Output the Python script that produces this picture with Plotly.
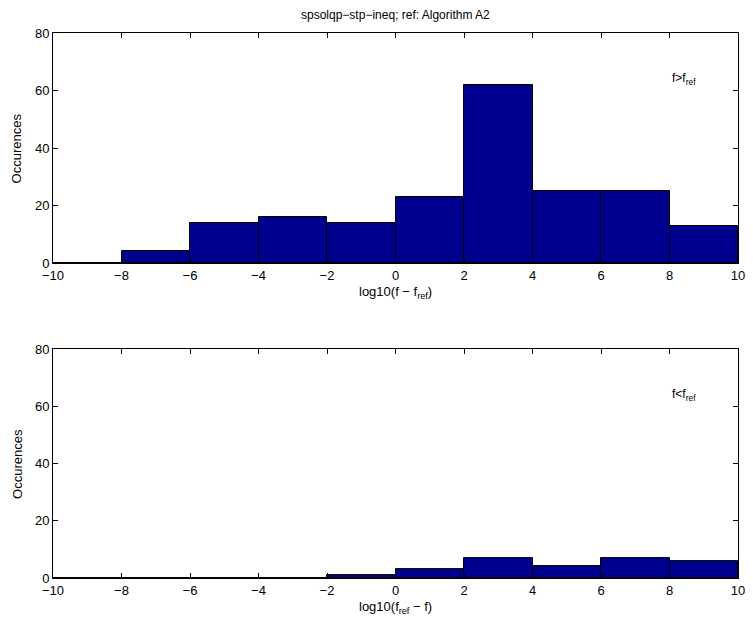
import plotly.graph_objects as go

# Histogram bin centres (bins of width 2 spanning -10..10)
bin_centers = [-9, -7, -5, -3, -1, 1, 3, 5, 7, 9]
bin_width = 2

# Counts where f > f_ref  (x = log10(f - f_ref))
counts_above = [0, 4, 14, 16, 14, 23, 62, 25, 25, 13]
# Counts where f < f_ref  (x = log10(f_ref - f))
counts_below = [0, 0, 0, 0, 1, 3, 7, 4, 7, 6]

x_ticks = [-10, -8, -6, -4, -2, 0, 2, 4, 6, 8, 10]
y_ticks = [0, 20, 40, 60, 80]

title_text = "spsolqp\u2212stp\u2212ineq; ref: Algorithm A2"
xlabel_top = "log10(f \u2212 f<sub>ref</sub>)"
xlabel_bottom = "log10(f<sub>ref</sub> \u2212 f)"
ylabel = "Occurences"
note_top = "f>f<sub>ref</sub>"
note_bottom = "f<f<sub>ref</sub>"

BAR_COLOR = "#00008F"
FONT = "Liberation Sans, Arial, Helvetica, sans-serif"

fig = go.Figure()

fig.add_trace(go.Bar(
    x=bin_centers, y=counts_above, width=[bin_width] * len(bin_centers),
    marker=dict(color=BAR_COLOR, line=dict(color="black", width=1)),
    xaxis="x", yaxis="y", showlegend=False, hoverinfo="x+y",
))
fig.add_trace(go.Bar(
    x=bin_centers, y=counts_below, width=[bin_width] * len(bin_centers),
    marker=dict(color=BAR_COLOR, line=dict(color="black", width=1)),
    xaxis="x2", yaxis="y2", showlegend=False, hoverinfo="x+y",
))

axis_common = dict(
    showline=True, linecolor="black", linewidth=1, mirror="ticks",
    ticks="inside", ticklen=5, tickcolor="black", tickwidth=1,
    showgrid=False, zeroline=False,
    tickfont=dict(family=FONT, size=13, color="black"),
)

fig.update_layout(
    width=753, height=620,
    margin=dict(l=53, r=8, t=33, b=42),
    paper_bgcolor="white", plot_bgcolor="white",
    bargap=0,
    font=dict(family=FONT, size=13, color="black"),
    xaxis=dict(range=[-10, 10], tickvals=x_ticks, domain=[0, 1], anchor="y", **axis_common),
    yaxis=dict(range=[0, 80], tickvals=y_ticks, domain=[0.578, 1.0], anchor="x", **axis_common),
    xaxis2=dict(range=[-10, 10], tickvals=x_ticks, domain=[0, 1], anchor="y2", **axis_common),
    yaxis2=dict(range=[0, 80], tickvals=y_ticks, domain=[0.0, 0.42], anchor="x2", **axis_common),
)

annotations = [
    dict(text=title_text, xref="paper", yref="paper", x=0.5, y=1.033,
         xanchor="center", yanchor="middle", showarrow=False, font=dict(size=12)),
    dict(text=xlabel_top, xref="paper", yref="paper", x=0.5, y=0.523,
         xanchor="center", yanchor="middle", showarrow=False, font=dict(size=13)),
    dict(text=xlabel_bottom, xref="paper", yref="paper", x=0.5, y=-0.055,
         xanchor="center", yanchor="middle", showarrow=False, font=dict(size=13)),
    dict(text=ylabel, xref="paper", yref="paper", x=-0.052, y=0.789, textangle=-90,
         xanchor="center", yanchor="middle", showarrow=False, font=dict(size=13)),
    dict(text=ylabel, xref="paper", yref="paper", x=-0.052, y=0.21, textangle=-90,
         xanchor="center", yanchor="middle", showarrow=False, font=dict(size=13)),
    dict(text=note_top, xref="x", yref="y", x=8, y=64,
         xanchor="left", yanchor="middle", showarrow=False, font=dict(size=12)),
    dict(text=note_bottom, xref="x2", yref="y2", x=8, y=64,
         xanchor="left", yanchor="middle", showarrow=False, font=dict(size=12)),
]
fig.update_layout(annotations=annotations)

fig.write_html("out.html")
